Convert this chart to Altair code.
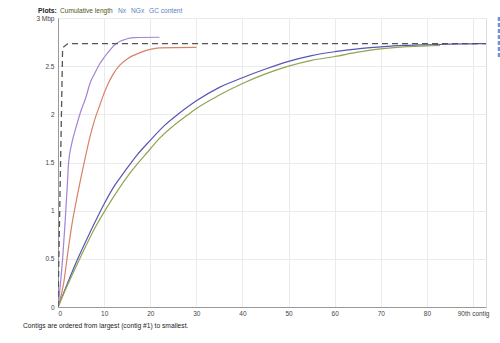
import altair as alt
import pandas as pd

# ---- data (x = contig index, y = cumulative length, Mbp) ----
ref_x = [0, 1, 2, 3, 92.8]
ref_y = [0, 2.69, 2.73, 2.734, 2.734]

purple_x = [0, 1, 1.5, 2, 2.3, 3, 4, 5, 6, 7, 8, 9, 10, 11.3, 12.5, 13.8, 15, 16.5, 22]
purple_y = [0, 0.5, 0.85, 1.25, 1.5, 1.7, 1.88, 2.04, 2.17, 2.33, 2.43, 2.52, 2.59, 2.67, 2.73, 2.765, 2.785, 2.797, 2.80]

red_x = [0, 1.2, 2.2, 3, 4, 5.5, 7, 8, 9.1, 10, 11, 12, 13.4, 15, 17.8, 20, 22, 30]
red_y = [0, 0.24, 0.59, 0.85, 1.11, 1.46, 1.78, 1.95, 2.1, 2.22, 2.33, 2.42, 2.51, 2.575, 2.64, 2.675, 2.69, 2.695]

blue_x = [0, 2, 4, 7, 10, 12.4, 14.2, 17, 20, 23, 26, 30, 35, 40, 45, 50, 55, 60, 65, 70, 75, 80, 85, 90, 92.8]
blue_y = [0, 0.24, 0.47, 0.78, 1.07, 1.27, 1.39, 1.57, 1.73, 1.88, 2.0, 2.14, 2.28, 2.38, 2.47, 2.55, 2.61, 2.65, 2.68, 2.70, 2.715, 2.722, 2.728, 2.732, 2.734]

green_x = [0, 2, 5, 8, 11.6, 15.6, 20, 22, 25, 28, 30, 35, 40, 45, 50, 55, 60, 65, 70, 75, 80, 82.8]
green_y = [0, 0.22, 0.53, 0.82, 1.11, 1.39, 1.64, 1.75, 1.88, 1.99, 2.06, 2.2, 2.32, 2.42, 2.50, 2.56, 2.60, 2.645, 2.68, 2.70, 2.71, 2.715]

series_names = ["purple", "red", "blue", "green"]
series_colors = ["#a283d6", "#d98068", "#5656b4", "#93a352"]

x_ticks = [0, 10, 20, 30, 40, 50, 60, 70, 80, 90]
y_ticks = [0, 0.5, 1, 1.5, 2, 2.5, 3]

header_plots = "Plots:"
header_items = ["Cumulative length", "Nx", "NGx", "GC content"]
footer = "Contigs are ordered from largest (contig #1) to smallest."

# ---- tables ----
rows = []
for name, xs, ys in zip(series_names,
                        [purple_x, red_x, blue_x, green_x],
                        [purple_y, red_y, blue_y, green_y]):
    for i, (a, b) in enumerate(zip(xs, ys)):
        rows.append({"series": name, "x": a, "y": b, "o": i})
df = pd.DataFrame(rows)
ref_df = pd.DataFrame({"x": ref_x, "y": ref_y, "o": list(range(len(ref_x)))})

W, H = 428, 289

xscale = alt.Scale(domain=[0, 92.8], nice=False, zero=False)
yscale = alt.Scale(domain=[0, 3], nice=False)

xaxis = alt.Axis(values=x_ticks, title=None, grid=True, gridColor="#ebebeb",
                 tickSize=0, labelPadding=3, labelFontSize=6.5, labelColor="#444",
                 labelFont="Liberation Sans", domainColor="#999", format="d",
                 labelExpr="datum.value == 90 ? '90th contig' : datum.label")
yaxis = alt.Axis(values=y_ticks, title=None, grid=True, gridColor="#ebebeb",
                 tickSize=0, labelPadding=4, labelFontSize=6.5, labelColor="#444",
                 labelFont="Liberation Sans", domainColor="#999", format="~g",
                 labelExpr="datum.value == 3 ? '3 Mbp' : datum.label")

lines = alt.Chart(df).mark_line(strokeWidth=1.2, clip=True, interpolate="monotone").encode(
    x=alt.X("x:Q", scale=xscale, axis=xaxis),
    y=alt.Y("y:Q", scale=yscale, axis=yaxis),
    color=alt.Color("series:N", scale=alt.Scale(domain=series_names, range=series_colors), legend=None),
    order="o:Q",
    detail="series:N",
)

ref = alt.Chart(ref_df).mark_line(strokeWidth=1.3, strokeDash=[6, 4], color="#555555", clip=True).encode(
    x=alt.X("x:Q", scale=xscale),
    y=alt.Y("y:Q", scale=yscale),
    order="o:Q",
)

# header texts
t_plots = alt.Chart(pd.DataFrame({"t": [header_plots]})).mark_text(
    align="left", baseline="middle", fontSize=6.8, fontWeight="bold", font="Liberation Sans", color="#222"
).encode(text="t:N", x=alt.value(-20), y=alt.value(-7))

item_x = [2, 60, 73, 91]
item_colors = ["#55551a", "#5a7fbf", "#5a7fbf", "#5a7fbf"]
item_layers = []
for txt, ix, ic in zip(header_items, item_x, item_colors):
    item_layers.append(
        alt.Chart(pd.DataFrame({"t": [txt]})).mark_text(
            align="left", baseline="middle", fontSize=6.6, font="Liberation Sans", color=ic
        ).encode(text="t:N", x=alt.value(ix), y=alt.value(-7))
    )

t_footer = alt.Chart(pd.DataFrame({"t": [footer]})).mark_text(
    align="left", baseline="middle", fontSize=6.7, font="Liberation Sans", color="#222"
).encode(text="t:N", x=alt.value(-35), y=alt.value(308))

# partially visible legend markers at the right edge
legend_bits = alt.Chart(pd.DataFrame({"a": [0]})).mark_rule(
    color="#6f93d6", strokeWidth=2.5, strokeDash=[4, 2]
).encode(x=alt.value(441), y=alt.value(-1), y2=alt.value(40))

chart = alt.layer(lines, ref, t_plots, *item_layers, t_footer, legend_bits).properties(
    width=W, height=H,
    autosize=alt.AutoSizeParams(type="none"),
    padding={"left": 58, "top": 18, "right": 14, "bottom": 36},
).configure_view(stroke="#aaaaaa", strokeWidth=1).configure(background="white")

chart.save("out.html", embed_options={"renderer": "svg", "actions": False})
